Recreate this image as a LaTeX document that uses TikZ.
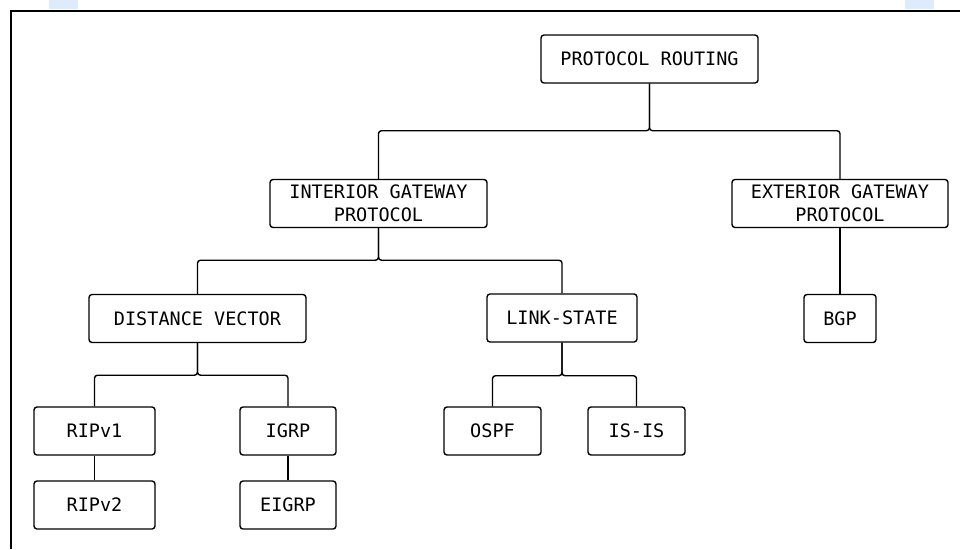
\documentclass[tikz,border=0pt]{standalone}
\usepackage{fontspec}
\setmonofont{DejaVu Sans Mono}
\definecolor{tabblue}{HTML}{DDEBFB}
\tikzset{
  box/.style={draw, rounded corners=3pt, line width=1.4pt, minimum height=48pt,
    align=center, inner sep=0pt, font=\ttfamily\fontsize{18.5}{23}\selectfont},
  link/.style={line width=1.4pt, rounded corners=3pt}
}

\begin{document}
\begin{tikzpicture}[x=1pt, y=-1pt]
\useasboundingbox (0,0) rectangle (960,549);
\fill[tabblue] (49,0) rectangle (78,9);
\fill[tabblue] (905,0) rectangle (934,9);
\draw[line width=2pt] (11,549) -- (11,11) -- (960,11);

\node[box, minimum width=217pt] at (649.5,59) (root) {PROTOCOL ROUTING};
\node[box, minimum width=217pt] at (378.5,203.5) (igp) {INTERIOR GATEWAY\\PROTOCOL};
\node[box, minimum width=216pt] at (840,203.5) (egp) {EXTERIOR GATEWAY\\PROTOCOL};
\node[box, minimum width=217pt] at (197.5,318.5) (dv) {DISTANCE VECTOR};
\node[box, minimum width=150pt] at (562,318) (ls) {LINK-STATE};
\node[box, minimum width=72pt] at (840,318.5) (bgp) {BGP};
\node[box, minimum width=121pt] at (94.5,431) (rip1) {RIPv1};
\node[box, minimum width=96pt] at (288,431) (igrp) {IGRP};
\node[box, minimum width=97pt] at (492.5,431) (ospf) {OSPF};
\node[box, minimum width=97pt] at (636.5,431) (isis) {IS-IS};
\node[box, minimum width=121pt] at (94.5,505) (rip2) {RIPv2};
\node[box, minimum width=96pt] at (288,505) (eigrp) {EIGRP};

%tree links
\draw[link] (root.south) -- ++(0,47) -| (igp.north);
\draw[link] (root.south) -- ++(0,47) -| (egp.north);
\draw[link] (igp.south) -- ++(0,32) -| (dv.north);
\draw[link] (igp.south) -- ++(0,32) -| (ls.north);
\draw[link] (dv.south) -- ++(0,32) -| (rip1.north);
\draw[link] (dv.south) -- ++(0,32) -| (igrp.north);
\draw[link] (ls.south) -- ++(0,33) -| (ospf.north);
\draw[link] (ls.south) -- ++(0,33) -| (isis.north);
\draw[link] (egp) -- (bgp);
\draw[link] (rip1) -- (rip2);
\draw[link] (igrp) -- (eigrp);
\end{tikzpicture}
\end{document}
